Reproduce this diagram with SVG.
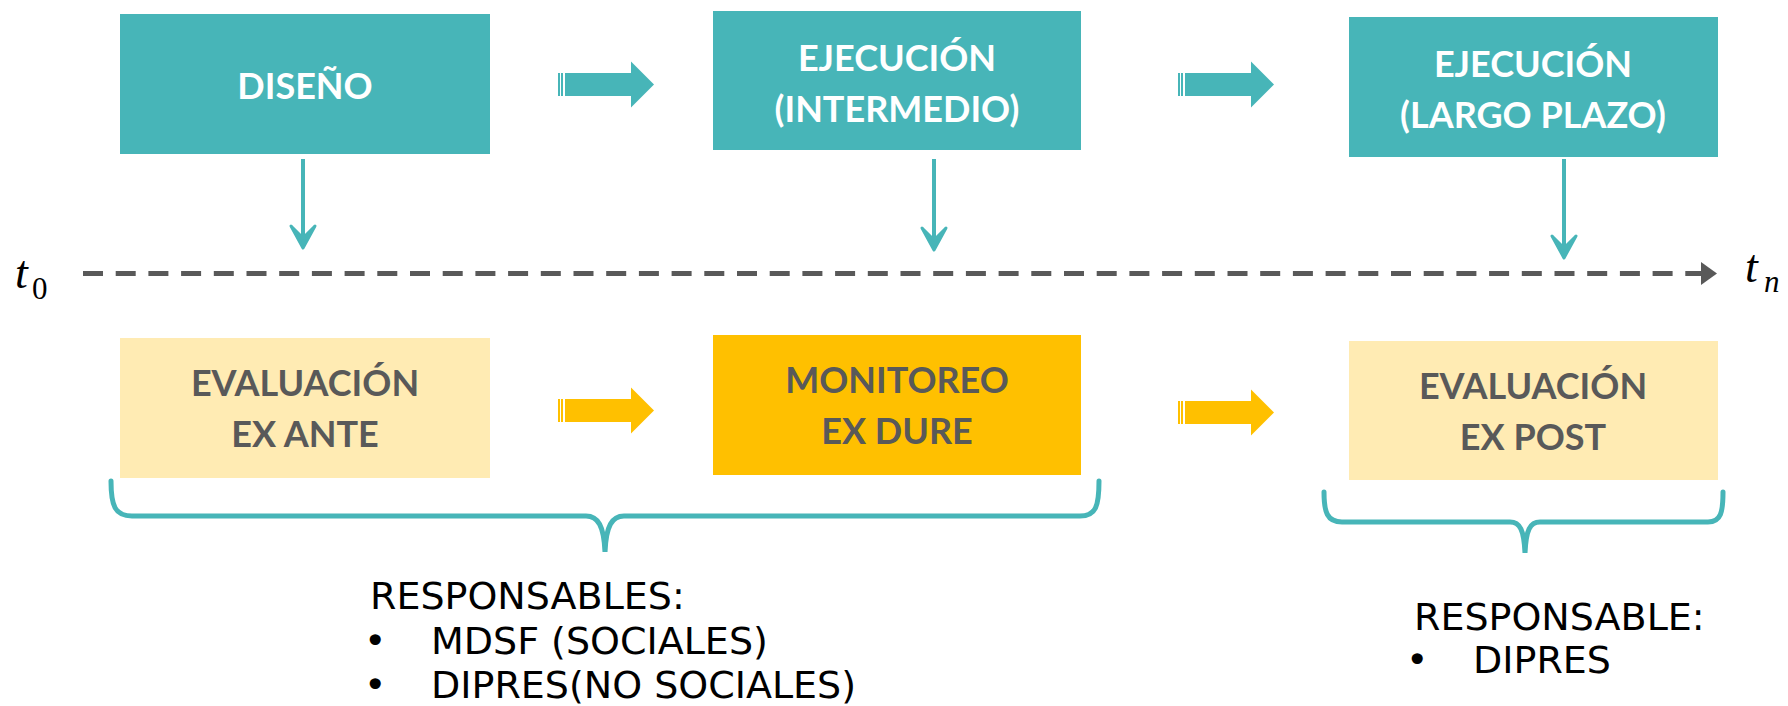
<svg xmlns="http://www.w3.org/2000/svg" xmlns:xlink="http://www.w3.org/1999/xlink" width="1788" height="706" viewBox="0 0 1788 706">
<style>
.teal{fill:#47B5B8}
.lite{fill:#FFEBB3}
.gold{fill:#FFC000}
.bt{font-family:Lato,"Open Sans",sans-serif;font-weight:bold;font-size:36px;text-anchor:middle}
.w{fill:#FFFFFF}
.g{fill:#595959}
.resp{font-family:"DejaVu Sans",Verdana,sans-serif;font-size:38px;fill:#000000}
.math{font-family:"Liberation Serif","DejaVu Serif",serif;fill:#000000}
.brace{fill:none;stroke:#47B5B8;stroke-width:5;stroke-linecap:round}
.down{fill:#47B5B8;stroke:#47B5B8;stroke-width:3;stroke-linejoin:round}
.shaft{stroke:#47B5B8;stroke-width:4}
</style>
<defs>
<g id="blockarrow">
<rect x="0" y="-11.5" width="2" height="23"/>
<rect x="3" y="-11.5" width="2" height="23"/>
<polygon points="7,-11.5 73,-11.5 73,-23 96,0 73,23 73,11.5 7,11.5"/>
</g>
</defs>

<g id="node-diseno">
<rect class="teal" x="120" y="14" width="370" height="140"/>
<text class="bt w" x="305" y="99">DISEÑO</text>
</g>
<g id="node-ejecucion-intermedio">
<rect class="teal" x="713" y="11" width="368" height="139"/>
<text class="bt w" x="897" y="71">EJECUCIÓN</text>
<text class="bt w" x="897" y="122">(INTERMEDIO)</text>
</g>
<g id="node-ejecucion-largo">
<rect class="teal" x="1349" y="17" width="369" height="140"/>
<text class="bt w" x="1533" y="77">EJECUCIÓN</text>
<text class="bt w" x="1533" y="128">(LARGO PLAZO)</text>
</g>
<g id="node-ex-ante">
<rect class="lite" x="120" y="338" width="370" height="140"/>
<text class="bt g" x="305" y="396">EVALUACIÓN</text>
<text class="bt g" x="305" y="447">EX ANTE</text>
</g>
<g id="node-ex-dure">
<rect class="gold" x="713" y="335" width="368" height="140"/>
<text class="bt g" x="897" y="393">MONITOREO</text>
<text class="bt g" x="897" y="444">EX DURE</text>
</g>
<g id="node-ex-post">
<rect class="lite" x="1349" y="341" width="369" height="139"/>
<text class="bt g" x="1533" y="399">EVALUACIÓN</text>
<text class="bt g" x="1533" y="450">EX POST</text>
</g>

<g id="connectors">
<use xlink:href="#blockarrow" href="#blockarrow" class="teal" transform="translate(558,84.5)"/>
<use xlink:href="#blockarrow" href="#blockarrow" class="teal" transform="translate(1178,84.5)"/>
<use xlink:href="#blockarrow" href="#blockarrow" class="gold" transform="translate(558,410.5)"/>
<use xlink:href="#blockarrow" href="#blockarrow" class="gold" transform="translate(1178,412.5)"/>

<line class="shaft" x1="303" y1="159" x2="303" y2="240"/>
<polygon class="down" points="291,226 303,248 315,226 303,238"/>
<line class="shaft" x1="934" y1="159" x2="934" y2="242"/>
<polygon class="down" points="922,228 934,250 946,228 934,240"/>
<line class="shaft" x1="1564" y1="159" x2="1564" y2="250"/>
<polygon class="down" points="1552,236 1564,258 1576,236 1564,248"/>

<line x1="83" y1="273.5" x2="1702" y2="273.5" stroke="#595959" stroke-width="5" stroke-dasharray="20 12.7"/>
<polygon points="1701,262 1717,273.5 1701,285" fill="#595959"/>
</g>

<g id="timeline-labels">
<text class="math" x="15" y="288" font-size="46" font-style="italic">t</text>
<text class="math" x="32" y="299" font-size="31">0</text>
<text class="math" x="1745" y="282" font-size="46" font-style="italic">t</text>
<text class="math" x="1764" y="292" font-size="31" font-style="italic">n</text>
</g>

<g id="braces">
<path class="brace" d="M111,481 C111,506 115,516 132,516 L586,516 C598,516 604,526 605,552 C606,526 612,516 624,516 L1080,516 C1096,516 1099,506 1099,481"/>
<path class="brace" d="M1324,492 C1324,512 1327,522 1342,522 L1510,522 C1520,522 1524,530 1525,553 C1526,530 1530,522 1540,522 L1708,522 C1721,522 1723,512 1723,492"/>
</g>

<g id="responsables">
<text class="resp" x="370" y="609">RESPONSABLES:</text>
<text class="resp" x="364" y="654">•</text>
<text class="resp" x="431" y="654">MDSF (SOCIALES)</text>
<text class="resp" x="364" y="698">•</text>
<text class="resp" x="431" y="698">DIPRES(NO SOCIALES)</text>
<text class="resp" x="1414" y="630">RESPONSABLE:</text>
<text class="resp" x="1406" y="673">•</text>
<text class="resp" x="1473" y="673">DIPRES</text>
</g>
</svg>
